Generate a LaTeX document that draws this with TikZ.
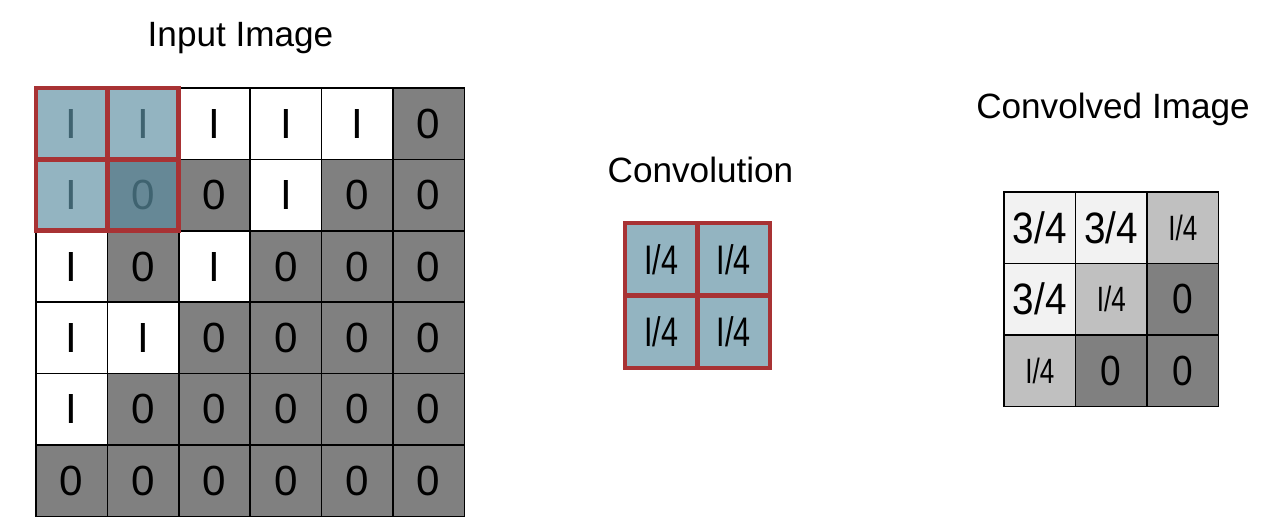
\documentclass[tikz,border=0pt]{standalone}
\usepackage{fontspec}
\setmainfont{Liberation Sans}
\newfontfamily\narrowfont[FakeStretch=0.74]{Liberation Sans}
\newfontfamily\wideishfont[FakeStretch=0.88]{Liberation Sans}
\usetikzlibrary{positioning}
\definecolor{Tint}{RGB}{147, 180, 193}
\definecolor{TintDark}{RGB}{102, 136, 150}
\definecolor{TintText}{RGB}{63, 99, 112}
\definecolor{Edge}{RGB}{168, 50, 52}
\definecolor{Zero}{RGB}{128, 128, 128}
\definecolor{Quarter}{RGB}{192, 192, 192}
\definecolor{ThreeQ}{RGB}{242, 242, 242}
\tikzset{
    title/.style={anchor=base, font=\fontsize{20}{24}\selectfont},
    pixel/.style={draw=black, line width=0.8pt, minimum size=1.428cm, inner sep=0pt, outer sep=0pt, font=\fontsize{24}{24}\selectfont},
    weight/.style={draw=Edge, line width=2.4pt, fill=Tint, minimum size=1.45cm, inner sep=0pt, outer sep=0pt, font=\narrowfont\fontsize{23.5}{24}\selectfont},
    outpix/.style={draw=black, line width=0.8pt, minimum size=1.43cm, inner sep=0pt, outer sep=0pt, font=\wideishfont\fontsize{25}{25}\selectfont},
    window/.style={draw=Edge, line width=2.8pt}
}
\begin{document}
\begin{tikzpicture}[x=0.02cm, y=-0.02cm]
            \useasboundingbox (0,0) rectangle (1270,527);
            % Input image
            \node[title] (title-in) at (240.5,47) {Input Image};
            \foreach \row [count=\r] in {{1,1,1,1,1,0},{1,0,0,1,0,0},{1,0,1,0,0,0},{1,1,0,0,0,0},{1,0,0,0,0,0},{0,0,0,0,0,0}}
              \foreach \v [count=\c] in \row {
                \ifnum\v=1 \def\cellfill{white}\def\cellval{I}\else\def\cellfill{Zero}\def\cellval{0}\fi
                \def\cellink{black}
                \ifnum\r<3 \ifnum\c<3
                  \ifnum\v=1 \def\cellfill{Tint}\else\def\cellfill{TintDark}\fi
                  \def\cellink{TintText}
                \fi\fi
                \node[pixel, fill=\cellfill, text=\cellink] (in-\r-\c) at ({36+71.4*(\c-0.5)},{88+71.4*(\r-0.5)}) {\cellval};
              }
            % Kernel window on the input
            \draw[window] (in-1-1.north west) rectangle (in-2-2.south east);
            \draw[window] (in-1-1.north east) -- (in-2-1.south east)
                          (in-1-1.south west) -- (in-1-2.south east);
            
            % Convolution kernel
            \node[title] (title-k) at (700.5,182) {Convolution};
            \foreach \r in {1,2}
              \foreach \c in {1,2}
                \node[weight] (k-\r-\c) at ({625+72.5*(\c-0.5)},{223+72.5*(\r-0.5)}) {I/4};
            
            % Convolved image
            \node[title] (title-out) at (1113,118) {Convolved Image};
            \foreach \row [count=\r] in {{3,3,1},{3,1,0},{1,0,0}}
              \foreach \v [count=\c] in \row {
                \ifcase\v \def\cellfill{Zero}\def\cellval{\fontsize{24}{24}\selectfont 0}%
                \or \def\cellfill{Quarter}\def\cellval{\narrowfont\fontsize{20}{20}\selectfont I/4}%
                \or
                \or \def\cellfill{ThreeQ}\def\cellval{3/4}%
                \fi
                \node[outpix, fill=\cellfill] (out-\r-\c) at ({1004+71.5*(\c-0.5)},{192+71.5*(\r-0.5)}) {\cellval};
              }
        \end{tikzpicture}
\end{document}
